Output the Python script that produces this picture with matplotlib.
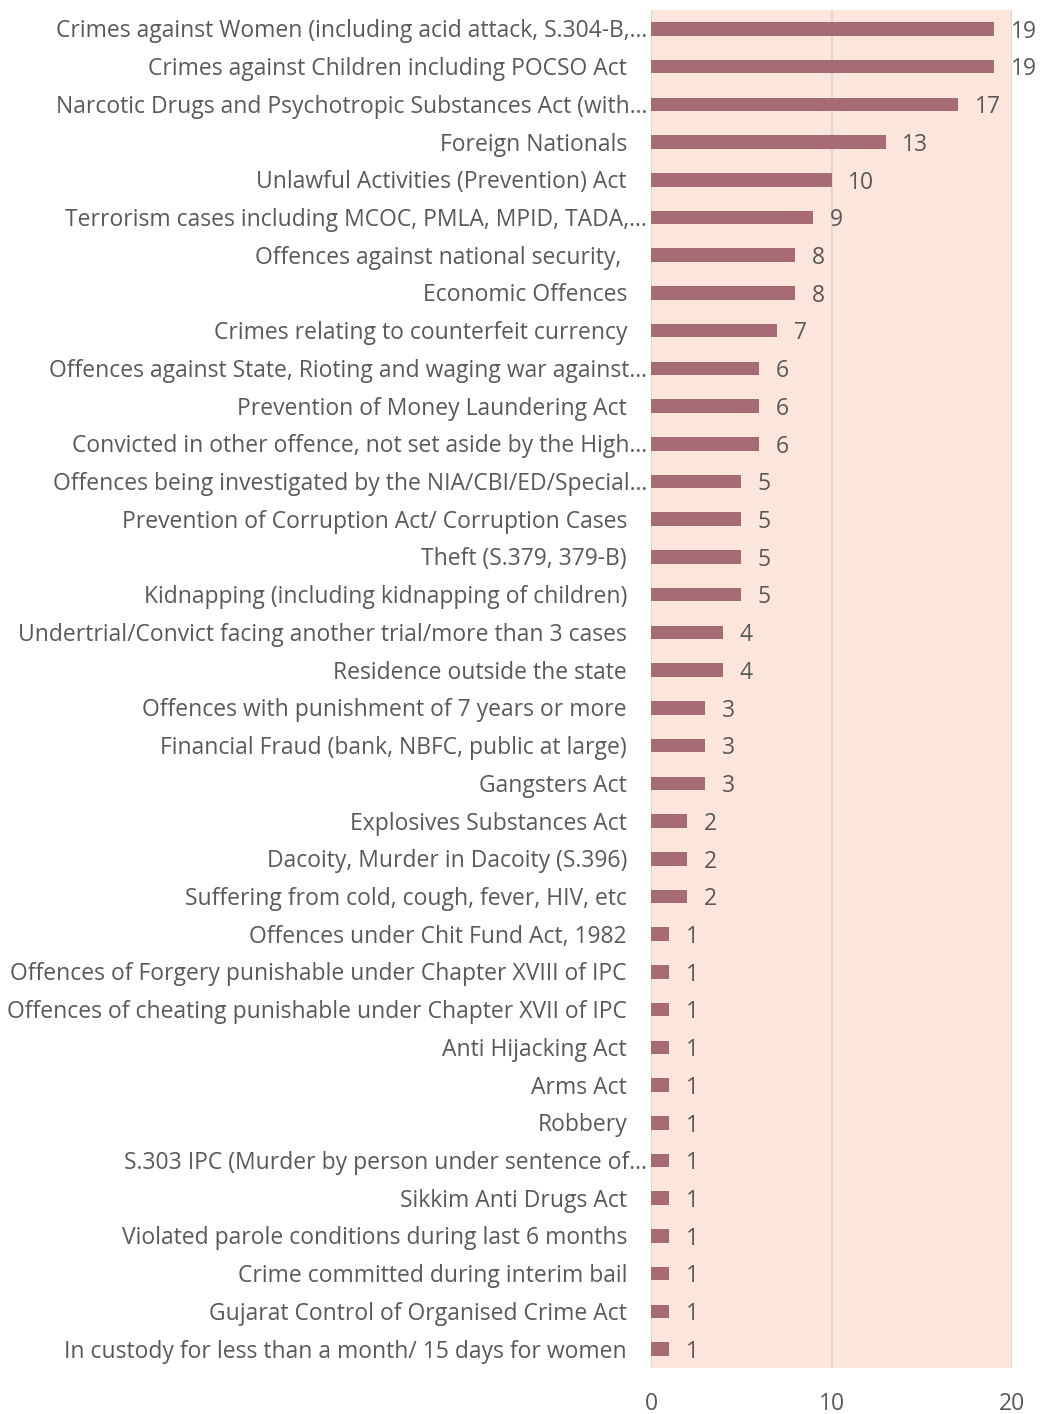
import matplotlib.pyplot as plt

# Categories (top to bottom) and counts
categories = [
    "Crimes against Women (including acid attack, S.304-B,…",
    "Crimes against Children including POCSO Act",
    "Narcotic Drugs and Psychotropic Substances Act (with…",
    "Foreign Nationals",
    "Unlawful Activities (Prevention) Act",
    "Terrorism cases including MCOC, PMLA, MPID, TADA,…",
    "Offences against national security, ",
    "Economic Offences",
    "Crimes relating to counterfeit currency",
    "Offences against State, Rioting and waging war against…",
    "Prevention of Money Laundering Act",
    "Convicted in other offence, not set aside by the High…",
    "Offences being investigated by the NIA/CBI/ED/Special…",
    "Prevention of Corruption Act/ Corruption Cases",
    "Theft (S.379, 379-B)",
    "Kidnapping (including kidnapping of children)",
    "Undertrial/Convict facing another trial/more than 3 cases",
    "Residence outside the state",
    "Offences with punishment of 7 years or more",
    "Financial Fraud (bank, NBFC, public at large)",
    "Gangsters Act",
    "Explosives Substances Act",
    "Dacoity, Murder in Dacoity (S.396)",
    "Suffering from cold, cough, fever, HIV, etc",
    "Offences under Chit Fund Act, 1982",
    "Offences of Forgery punishable under Chapter XVIII of IPC",
    "Offences of cheating punishable under Chapter XVII of IPC",
    "Anti Hijacking Act",
    "Arms Act",
    "Robbery",
    "S.303 IPC (Murder by person under sentence of…",
    "Sikkim Anti Drugs Act",
    "Violated parole conditions during last 6 months",
    "Crime committed during interim bail",
    "Gujarat Control of Organised Crime Act",
    "In custody for less than a month/ 15 days for women",
]
counts = [19, 19, 17, 13, 10, 9, 8, 8, 7, 6, 6, 6, 5, 5, 5, 5, 4, 4, 3, 3, 3,
          2, 2, 2, 1, 1, 1, 1, 1, 1, 1, 1, 1, 1, 1, 1]
x_ticks = [0, 10, 20]

plt.rcParams['font.family'] = ['Open Sans', 'DejaVu Sans']
text_color = "#595959"
bar_color = "#A66B74"
bg_color = "#FCE6DC"
grid_color = "#D9D9D9"
fs = 16.5

fig = plt.figure(figsize=(10.43, 14.14), dpi=100)
ax = fig.add_axes([651 / 1043, 1 - 1368 / 1414, 361 / 1043, 1358 / 1414])
ax.set_facecolor(bg_color)

y = list(range(len(categories)))
ax.barh(y, counts, height=0.36, color=bar_color, zorder=3)

ax.set_xlim(0, 20)
ax.set_ylim(len(categories) - 0.5, -0.5)
ax.set_xticks(x_ticks)
ax.set_xticklabels([str(t) for t in x_ticks])
ax.tick_params(axis="x", length=0, pad=17, labelsize=fs, labelcolor=text_color)
ax.set_yticks([])
for s in ax.spines.values():
    s.set_visible(False)
for t in x_ticks:
    ax.axvline(t, color=grid_color, lw=1.5, zorder=1)

# Category labels
for i, lab in enumerate(categories):
    off = -4 if lab.endswith("…") else -24
    ax.annotate(lab, xy=(0, i), xycoords=("axes fraction", "data"),
                xytext=(off * 0.72, -1.8), textcoords="offset points",
                ha="right", va="center", fontsize=fs, color=text_color)

# Value labels
for i, v in enumerate(counts):
    ax.annotate(str(v), xy=(v, i), xytext=(12, -2), textcoords="offset points",
                ha="left", va="center", fontsize=fs, color=text_color)

fig.savefig("out.png", dpi=100)
